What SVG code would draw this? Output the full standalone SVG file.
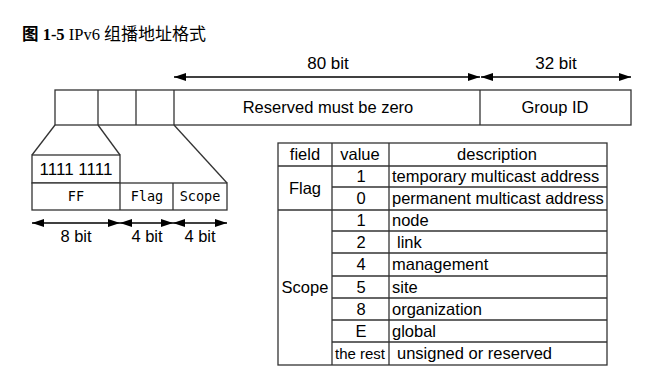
<svg xmlns="http://www.w3.org/2000/svg" width="665" height="382" viewBox="0 0 665 382">
<style>
.ln{fill:none;stroke:#333;stroke-width:1.3}
.bx{fill:#fff;stroke:#333;stroke-width:1.3}
.t{font-family:"Liberation Sans",Arial,sans-serif;font-size:16.5px;fill:#000}
.c{text-anchor:middle}
.m{font-family:"DejaVu Sans Mono","Liberation Mono",monospace;font-size:13.5px;fill:#000;text-anchor:middle}
.ar{fill:none;stroke:#000;stroke-width:1.3;marker-start:url(#ah);marker-end:url(#ah)}
.ti{font-family:"Liberation Serif","Noto Sans CJK SC",serif;font-size:16.5px;fill:#000}
</style>
<defs>
<marker id="ah" viewBox="0 0 12 8" refX="12" refY="4" markerWidth="12" markerHeight="8" markerUnits="userSpaceOnUse" orient="auto-start-reverse">
<path d="M0,0 L12,4 L0,8 Z" fill="#000"/>
</marker>
</defs>
<text class="ti" x="22" y="40"><tspan font-weight="bold">图 1-5</tspan> IPv6 <tspan font-size="17px">组播地址格式</tspan></text>

<g id="address-bar">
<rect class="bx" x="55" y="90" width="576" height="35"/>
<line class="ln" x1="98" y1="90" x2="98" y2="125"/>
<line class="ln" x1="136" y1="90" x2="136" y2="125"/>
<line class="ln" x1="174" y1="90" x2="174" y2="125"/>
<line class="ln" x1="480" y1="90" x2="480" y2="125"/>
<text class="t c" x="328" y="113">Reserved must be zero</text>
<text class="t c" x="555" y="113">Group ID</text>
</g>

<g id="detail">
<rect class="bx" x="32" y="155" width="88" height="28"/>
<rect class="bx" x="32" y="183" width="195" height="27"/>
<line class="ln" x1="120" y1="183" x2="120" y2="210"/>
<line class="ln" x1="173" y1="183" x2="173" y2="210"/>
<text class="t c" x="76" y="175" style="font-size:17px">1111 1111</text>
<text class="m" x="76" y="201">FF</text>
<text class="m" x="147" y="201">Flag</text>
<text class="m" x="200" y="201">Scope</text>
</g>

<g id="connectors">
<line class="ln" x1="55" y1="125" x2="32" y2="155"/>
<line class="ln" x1="98" y1="125" x2="120" y2="155"/>
<line class="ln" x1="174" y1="125" x2="227" y2="183"/>
<line class="ar" x1="174" y1="77" x2="480" y2="77"/>
<line class="ar" x1="481" y1="77" x2="631" y2="77"/>
<line class="ar" x1="32" y1="223" x2="120" y2="223"/>
<line class="ar" x1="120" y1="223" x2="173" y2="223"/>
<line class="ar" x1="173" y1="223" x2="227" y2="223"/>
</g>
<g id="labels">
<text class="t c" x="328" y="69" style="font-size:17px">80 bit</text>
<text class="t c" x="556" y="69" style="font-size:17px">32 bit</text>
<text class="t c" x="76" y="242">8 bit</text>
<text class="t c" x="147" y="242">4 bit</text>
<text class="t c" x="200" y="242">4 bit</text>
</g>

<g id="table">
<rect class="bx" x="278" y="143" width="329" height="222"/>
<line class="ln" x1="332" y1="143" x2="332" y2="365"/>
<line class="ln" x1="389" y1="143" x2="389" y2="365"/>
<line class="ln" x1="278" y1="166" x2="607" y2="166"/>
<line class="ln" x1="332" y1="187" x2="607" y2="187"/>
<line class="ln" x1="278" y1="210" x2="607" y2="210"/>
<line class="ln" x1="332" y1="231" x2="607" y2="231"/>
<line class="ln" x1="332" y1="253" x2="607" y2="253"/>
<line class="ln" x1="332" y1="276" x2="607" y2="276"/>
<line class="ln" x1="332" y1="298" x2="607" y2="298"/>
<line class="ln" x1="332" y1="320" x2="607" y2="320"/>
<line class="ln" x1="332" y1="342" x2="607" y2="342"/>
<text class="t c" x="305" y="160">field</text>
<text class="t c" x="360" y="160">value</text>
<text class="t c" x="497" y="160">description</text>
<text class="t c" x="305" y="194">Flag</text>
<text class="t c" x="305" y="293">Scope</text>
<text class="t c" x="361" y="182">1</text>
<text class="t c" x="361" y="204">0</text>
<text class="t c" x="361" y="226">1</text>
<text class="t c" x="361" y="248">2</text>
<text class="t c" x="361" y="270">4</text>
<text class="t c" x="361" y="293">5</text>
<text class="t c" x="361" y="315">8</text>
<text class="t c" x="361" y="337">E</text>
<text class="t c" x="360" y="359" style="font-size:15px">the rest</text>
<text class="t" x="392" y="182">temporary multicast address</text>
<text class="t" x="392" y="204">permanent multicast address</text>
<text class="t" x="392" y="226">node</text>
<text class="t" x="397" y="248">link</text>
<text class="t" x="392" y="270">management</text>
<text class="t" x="392" y="293">site</text>
<text class="t" x="392" y="315">organization</text>
<text class="t" x="392" y="337">global</text>
<text class="t" x="397" y="359">unsigned or reserved</text>
</g>
</svg>
